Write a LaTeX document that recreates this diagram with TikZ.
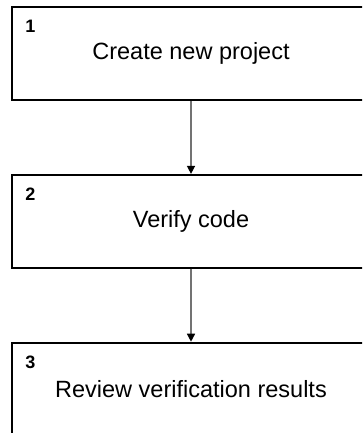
\documentclass[tikz,border=0pt]{standalone}
\usepackage{fontspec}
\setmainfont{Liberation Sans}
\usetikzlibrary{positioning,arrows.meta}

\begin{document}
\begin{tikzpicture}[x=1pt,y=-1pt,
    stepbox/.style={draw=black, line width=1.8pt, minimum width=358pt, minimum height=93pt,
        inner sep=0pt, font=\fontsize{23.5}{28}\selectfont},
    stepnum/.style={anchor=north west, inner sep=0pt, font=\fontsize{18}{20}\selectfont\bfseries},
    flow/.style={draw=black!55, line width=1.4pt, -{Triangle[length=8pt,width=8pt,color=black]}}]
        % Frame
        \useasboundingbox (0,0) rectangle (362,433);
        \clip (0,0) rectangle (362,433);

        % Steps
        \node[stepbox] (create) at (191,53.5) {Create new project};
        \node[stepbox, below=73pt of create] (verify) {Verify code};
        \node[stepbox, below=73pt of verify] (review) {Review verification results};

        % Step numbers
        \node[stepnum] (num1) at ([shift={(14pt,-14pt)}]create.north west) {1};
        \node[stepnum] (num2) at ([shift={(14pt,-14pt)}]verify.north west) {2};
        \node[stepnum] (num3) at ([shift={(14pt,-14pt)}]review.north west) {3};

        % Flow
        \draw[flow] (create) -- (verify);
        \draw[flow] (verify) -- (review);
    \end{tikzpicture}
\end{document}
